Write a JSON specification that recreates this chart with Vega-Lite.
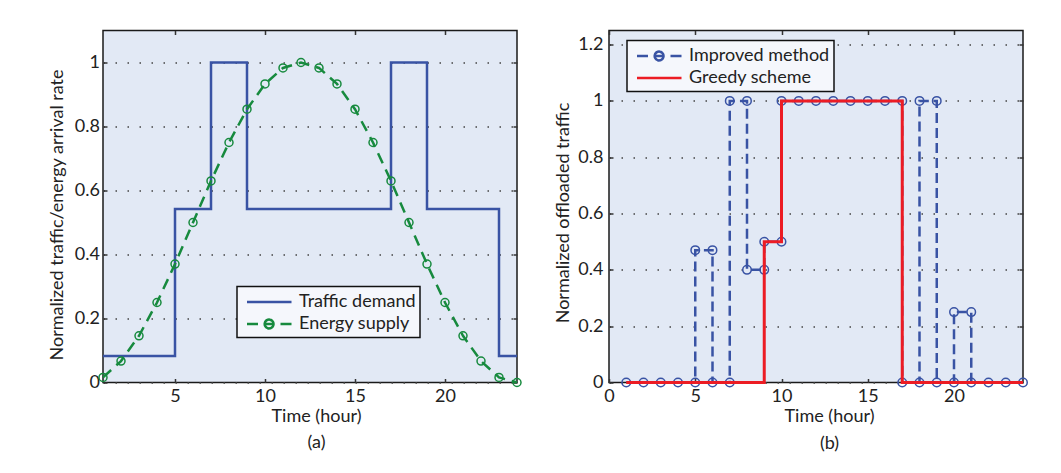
{
  "$schema": "https://vega.github.io/schema/vega-lite/v6.json",
  "background": "white",
  "padding": {"left": 47, "top": 28.5, "right": 5, "bottom": 5},
  "spacing": 28,
  "resolve": {"scale": {"color": "independent"}, "legend": {"color": "independent"}},
  "datasets": {
    "traffic": [
      {"hour": 1, "value": 0.083, "series": "Traffic demand"},
      {"hour": 5, "value": 0.542, "series": "Traffic demand"},
      {"hour": 7, "value": 1.0, "series": "Traffic demand"},
      {"hour": 9, "value": 0.542, "series": "Traffic demand"},
      {"hour": 17, "value": 1.0, "series": "Traffic demand"},
      {"hour": 19, "value": 0.542, "series": "Traffic demand"},
      {"hour": 23, "value": 0.083, "series": "Traffic demand"},
      {"hour": 24, "value": 0.083, "series": "Traffic demand"}
    ],
    "energy": [
      {"hour": 1, "value": 0.016, "series": "Energy supply"},
      {"hour": 2, "value": 0.067, "series": "Energy supply"},
      {"hour": 3, "value": 0.146, "series": "Energy supply"},
      {"hour": 4, "value": 0.25, "series": "Energy supply"},
      {"hour": 5, "value": 0.37, "series": "Energy supply"},
      {"hour": 6, "value": 0.5, "series": "Energy supply"},
      {"hour": 7, "value": 0.63, "series": "Energy supply"},
      {"hour": 8, "value": 0.75, "series": "Energy supply"},
      {"hour": 9, "value": 0.854, "series": "Energy supply"},
      {"hour": 10, "value": 0.933, "series": "Energy supply"},
      {"hour": 11, "value": 0.983, "series": "Energy supply"},
      {"hour": 12, "value": 1.0, "series": "Energy supply"},
      {"hour": 13, "value": 0.983, "series": "Energy supply"},
      {"hour": 14, "value": 0.933, "series": "Energy supply"},
      {"hour": 15, "value": 0.854, "series": "Energy supply"},
      {"hour": 16, "value": 0.75, "series": "Energy supply"},
      {"hour": 17, "value": 0.63, "series": "Energy supply"},
      {"hour": 18, "value": 0.5, "series": "Energy supply"},
      {"hour": 19, "value": 0.37, "series": "Energy supply"},
      {"hour": 20, "value": 0.25, "series": "Energy supply"},
      {"hour": 21, "value": 0.146, "series": "Energy supply"},
      {"hour": 22, "value": 0.067, "series": "Energy supply"},
      {"hour": 23, "value": 0.016, "series": "Energy supply"},
      {"hour": 24, "value": 0.0, "series": "Energy supply"}
    ],
    "improved": [
      {"step": 1, "hour": 1, "value": 0, "series": "Improved method"},
      {"step": 2, "hour": 2, "value": 0, "series": "Improved method"},
      {"step": 3, "hour": 3, "value": 0, "series": "Improved method"},
      {"step": 4, "hour": 4, "value": 0, "series": "Improved method"},
      {"step": 5, "hour": 5, "value": 0, "series": "Improved method"},
      {"step": 6, "hour": 5, "value": 0.47, "series": "Improved method"},
      {"step": 7, "hour": 6, "value": 0.47, "series": "Improved method"},
      {"step": 8, "hour": 6, "value": 0, "series": "Improved method"},
      {"step": 9, "hour": 7, "value": 0, "series": "Improved method"},
      {"step": 10, "hour": 7, "value": 1, "series": "Improved method"},
      {"step": 11, "hour": 8, "value": 1, "series": "Improved method"},
      {"step": 12, "hour": 8, "value": 0.4, "series": "Improved method"},
      {"step": 13, "hour": 9, "value": 0.4, "series": "Improved method"},
      {"step": 14, "hour": 9, "value": 0.5, "series": "Improved method"},
      {"step": 15, "hour": 10, "value": 0.5, "series": "Improved method"},
      {"step": 16, "hour": 10, "value": 1, "series": "Improved method"},
      {"step": 17, "hour": 11, "value": 1, "series": "Improved method"},
      {"step": 18, "hour": 12, "value": 1, "series": "Improved method"},
      {"step": 19, "hour": 13, "value": 1, "series": "Improved method"},
      {"step": 20, "hour": 14, "value": 1, "series": "Improved method"},
      {"step": 21, "hour": 15, "value": 1, "series": "Improved method"},
      {"step": 22, "hour": 16, "value": 1, "series": "Improved method"},
      {"step": 23, "hour": 17, "value": 1, "series": "Improved method"},
      {"step": 24, "hour": 17, "value": 0, "series": "Improved method"},
      {"step": 25, "hour": 18, "value": 0, "series": "Improved method"},
      {"step": 26, "hour": 18, "value": 1, "series": "Improved method"},
      {"step": 27, "hour": 19, "value": 1, "series": "Improved method"},
      {"step": 28, "hour": 19, "value": 0, "series": "Improved method"},
      {"step": 29, "hour": 20, "value": 0, "series": "Improved method"},
      {"step": 30, "hour": 20, "value": 0.25, "series": "Improved method"},
      {"step": 31, "hour": 21, "value": 0.25, "series": "Improved method"},
      {"step": 32, "hour": 21, "value": 0, "series": "Improved method"},
      {"step": 33, "hour": 22, "value": 0, "series": "Improved method"},
      {"step": 34, "hour": 23, "value": 0, "series": "Improved method"},
      {"step": 35, "hour": 24, "value": 0, "series": "Improved method"}
    ],
    "greedy": [
      {"hour": 1, "value": 0, "series": "Greedy scheme"},
      {"hour": 9, "value": 0.5, "series": "Greedy scheme"},
      {"hour": 10, "value": 1, "series": "Greedy scheme"},
      {"hour": 17, "value": 0, "series": "Greedy scheme"},
      {"hour": 24, "value": 0, "series": "Greedy scheme"}
    ]
  },
  "hconcat": [
    {
      "width": 414,
      "height": 352,
      "layer": [
        {
          "data": {"name": "traffic"},
          "mark": {"type": "line", "interpolate": "step-after", "strokeWidth": 2.5},
          "encoding": {
            "x": {"field": "hour", "type": "quantitative",
              "scale": {"domain": [1, 24], "nice": false, "zero": false},
              "axis": {"values": [5, 10, 15, 20], "labelPadding": 9,
                "title": ["Time (hour)", "(a)"], "titleX": 213, "titleY": 39,
                "titleBaseline": "alphabetic", "titleAlign": "center", "titleLineHeight": 26}},
            "y": {"field": "value", "type": "quantitative",
              "scale": {"domain": [0, 1.1], "nice": false},
              "axis": {"values": [0, 0.2, 0.4, 0.6, 0.8, 1], "format": "~g", "labelPadding": 7.5,
                "title": "Normalized traffic/energy arrival rate", "titleX": -46, "titleY": 184,
                "titleBaseline": "middle", "titleAlign": "center",
                "grid": true, "gridDash": [1.5, 10.5], "gridColor": "#444", "gridWidth": 1.5}},
            "color": {"field": "series", "type": "nominal",
              "scale": {"domain": ["Traffic demand", "Energy supply"], "range": ["#3953a4", "#178a3e"]},
              "legend": {"orient": "none", "legendX": 134, "legendY": 256, "title": null,
                "padding": 4, "rowPadding": 1, "symbolSize": 400, "symbolStrokeWidth": 2.5,
                "labelOffset": 35, "fillColor": "#f5f7fc", "strokeColor": "#111",
                "encode": {
                  "legend": {"update": {"strokeWidth": {"value": 1.5}}},
                  "symbols": {"update": {
                    "shape": [
                      {"test": "datum.value === 'Energy supply'", "value": "M-0.55,0H0.55M1.22,0H2.12M2.8,0H3.9M2.1,0A0.44,0.44,0,1,1,1.22,0A0.44,0.44,0,1,1,2.1,0"},
                      {"value": "M-0.55,0H3.9"}
                    ],
                    "fill": {"value": "transparent"},
                    "strokeDash": {"value": [1, 0]}
                  }}
                }}}
          }
        },
        {
          "data": {"name": "energy"},
          "mark": {"type": "line", "strokeWidth": 2.5, "strokeDash": [11, 7]},
          "encoding": {
            "x": {"field": "hour", "type": "quantitative",
              "axis": {"orient": "top", "values": [5, 10, 15, 20], "labels": false, "title": null}},
            "y": {"field": "value", "type": "quantitative",
              "axis": {"orient": "right", "values": [0, 0.2, 0.4, 0.6, 0.8, 1], "labels": false, "title": null}},
            "color": {"field": "series", "type": "nominal"}
          }
        },
        {
          "data": {"name": "energy"},
          "mark": {"type": "point", "shape": "circle", "filled": false, "size": 64, "strokeWidth": 1.5, "opacity": 1},
          "encoding": {
            "x": {"field": "hour", "type": "quantitative", "axis": null},
            "y": {"field": "value", "type": "quantitative", "axis": null},
            "color": {"field": "series", "type": "nominal"}
          }
        }
      ],
      "resolve": {"axis": {"x": "independent", "y": "independent"}}
    },
    {
      "width": 414,
      "height": 352,
      "layer": [
        {
          "data": {"name": "improved"},
          "mark": {"type": "line", "strokeWidth": 2.5, "strokeDash": [10, 5]},
          "encoding": {
            "x": {"field": "hour", "type": "quantitative",
              "scale": {"domain": [0, 24], "nice": false},
              "axis": {"values": [0, 5, 10, 15, 20], "labelPadding": 9,
                "title": ["Time (hour)", "(b)"], "titleX": 220, "titleY": 39,
                "titleBaseline": "alphabetic", "titleAlign": "center", "titleLineHeight": 27}},
            "y": {"field": "value", "type": "quantitative",
              "scale": {"domain": [0, 1.25], "nice": false},
              "axis": {"values": [0, 0.2, 0.4, 0.6, 0.8, 1, 1.2], "format": "~g", "labelPadding": 10,
                "title": "Normalized offloaded traffic", "titleX": -45.5, "titleY": 182,
                "titleBaseline": "middle", "titleAlign": "center",
                "grid": true, "gridDash": [1.5, 10.5], "gridColor": "#444", "gridWidth": 1.5}},
            "order": {"field": "step", "type": "quantitative"},
            "color": {"field": "series", "type": "nominal",
              "scale": {"domain": ["Improved method", "Greedy scheme"], "range": ["#3953a4", "#ec1c24"]},
              "legend": {"orient": "none", "legendX": 18, "legendY": 10, "title": null,
                "padding": 4, "rowPadding": 1, "symbolSize": 400, "symbolStrokeWidth": 2.5,
                "labelOffset": 35, "fillColor": "#f5f7fc", "strokeColor": "#111",
                "encode": {
                  "legend": {"update": {"strokeWidth": {"value": 1.5}}},
                  "symbols": {"update": {
                    "shape": [
                      {"test": "datum.value === 'Improved method'", "value": "M-0.55,0H0.55M1.22,0H2.12M2.8,0H3.9M2.1,0A0.44,0.44,0,1,1,1.22,0A0.44,0.44,0,1,1,2.1,0"},
                      {"value": "M-0.55,0H3.9"}
                    ],
                    "fill": {"value": "transparent"},
                    "strokeDash": {"value": [1, 0]}
                  }}
                }}}
          }
        },
        {
          "data": {"name": "improved"},
          "mark": {"type": "point", "shape": "circle", "filled": false, "size": 72, "strokeWidth": 1.5, "opacity": 1},
          "encoding": {
            "x": {"field": "hour", "type": "quantitative",
              "axis": {"orient": "top", "values": [0, 5, 10, 15, 20], "labels": false, "title": null}},
            "y": {"field": "value", "type": "quantitative",
              "axis": {"orient": "right", "values": [0, 0.2, 0.4, 0.6, 0.8, 1, 1.2], "labels": false, "title": null}},
            "color": {"field": "series", "type": "nominal"}
          }
        },
        {
          "data": {"name": "greedy"},
          "mark": {"type": "line", "interpolate": "step-after", "strokeWidth": 3},
          "encoding": {
            "x": {"field": "hour", "type": "quantitative", "axis": null},
            "y": {"field": "value", "type": "quantitative", "axis": null},
            "color": {"field": "series", "type": "nominal"}
          }
        }
      ],
      "resolve": {"axis": {"x": "independent", "y": "independent"}}
    }
  ],
  "config": {
    "font": "Lato, sans-serif",
    "view": {"stroke": "#1a1a1a", "strokeWidth": 1.5, "fill": "#e2e9f5"},
    "axis": {
      "labelFont": "Lato, sans-serif",
      "labelFontSize": 18, "labelColor": "#222",
      "titleFont": "Lato, sans-serif",
      "titleFontSize": 18, "titleFontWeight": "normal", "titleColor": "#222",
      "domain": false, "grid": false, "tickColor": "#333", "tickWidth": 1.5, "tickSize": -4,
      "labelFlush": false, "labelOverlap": false
    },
    "legend": {
      "labelFont": "Lato, sans-serif",
      "labelFontSize": 18, "labelColor": "#222", "labelLimit": 300
    }
  }
}
